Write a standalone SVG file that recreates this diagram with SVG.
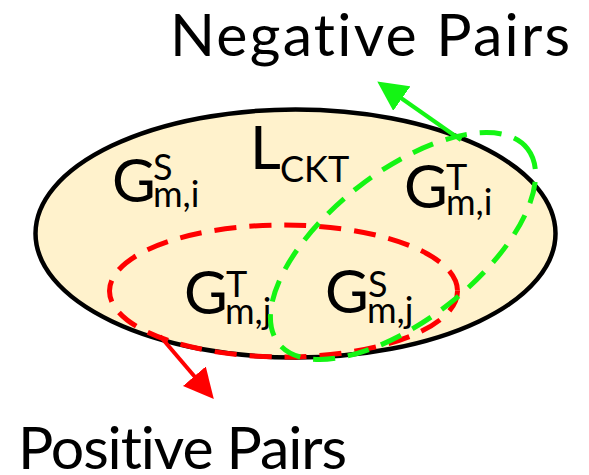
<svg xmlns="http://www.w3.org/2000/svg" width="589" height="475" viewBox="0 0 589 475">
  <style>
    .lbl { font-family: Lato, "Open Sans", "Liberation Sans", sans-serif; fill: #000; font-variant-ligatures: none; }
    .big { font-size: 60px; }
    .sm { font-size: 36px; }
    .title { font-size: 59px; }
    .dash-red { fill: none; stroke: #ff0000; stroke-width: 5; stroke-dasharray: 22 13; }
    .dash-green { fill: none; stroke: #14f514; stroke-width: 5; stroke-dasharray: 22 13; }
  </style>
  <defs>
    <marker id="ah-red" markerUnits="userSpaceOnUse" markerWidth="30" markerHeight="30" viewBox="0 0 29 29" refX="1" refY="14.5" orient="auto">
      <path d="M0,0 L29,14.5 L0,29 Z" fill="#ff0000"/>
    </marker>
    <marker id="ah-green" markerUnits="userSpaceOnUse" markerWidth="30" markerHeight="30" viewBox="0 0 29 29" refX="1" refY="14.5" orient="auto">
      <path d="M0,0 L29,14.5 L0,29 Z" fill="#14f514"/>
    </marker>
  </defs>

  <g id="title-negative">
    <text class="lbl title" x="170" y="56" textLength="400" lengthAdjust="spacing">Negative Pairs</text>
  </g>

  <g id="main-set">
    <ellipse cx="295.5" cy="233.5" rx="260" ry="124" fill="#fff2cc" stroke="#000" stroke-width="4.5"/>
  </g>

  <g id="label-lckt">
    <text class="lbl big" x="250" y="169">L<tspan class="sm" x="280" y="182">CKT</tspan></text>
  </g>
  <g id="label-gs-mi">
    <text class="lbl big" x="112" y="202">G<tspan class="sm" x="153" y="180">S</tspan><tspan class="sm" x="153" y="207">m,i</tspan></text>
  </g>
  <g id="label-gt-mi">
    <text class="lbl big" x="404" y="208">G<tspan class="sm" x="446" y="190">T</tspan><tspan class="sm" x="446" y="215">m,i</tspan></text>
  </g>
  <g id="label-gt-mj">
    <text class="lbl big" x="184" y="314">G<tspan class="sm" x="226" y="297">T</tspan><tspan class="sm" x="225" y="324">m,j</tspan></text>
  </g>
  <g id="label-gs-mj">
    <text class="lbl big" x="325" y="313">G<tspan class="sm" x="368" y="297">S</tspan><tspan class="sm" x="367" y="323">m,j</tspan></text>
  </g>

  <g id="positive-set">
    <ellipse class="dash-red" cx="283.5" cy="291" rx="174" ry="66"/>
  </g>
  <g id="negative-set">
    <ellipse class="dash-green" cx="403" cy="246" rx="158" ry="74" transform="rotate(-38 403 246)"/>
  </g>

  <g id="connectors">
    <line x1="160" y1="336" x2="195" y2="377" stroke="#ff0000" stroke-width="4" marker-end="url(#ah-red)"/>
    <line x1="461" y1="140" x2="401" y2="98" stroke="#14f514" stroke-width="4" marker-end="url(#ah-green)"/>
  </g>

  <g id="title-positive">
    <text class="lbl title" x="18" y="469" textLength="329" lengthAdjust="spacing">Positive Pairs</text>
  </g>
</svg>
